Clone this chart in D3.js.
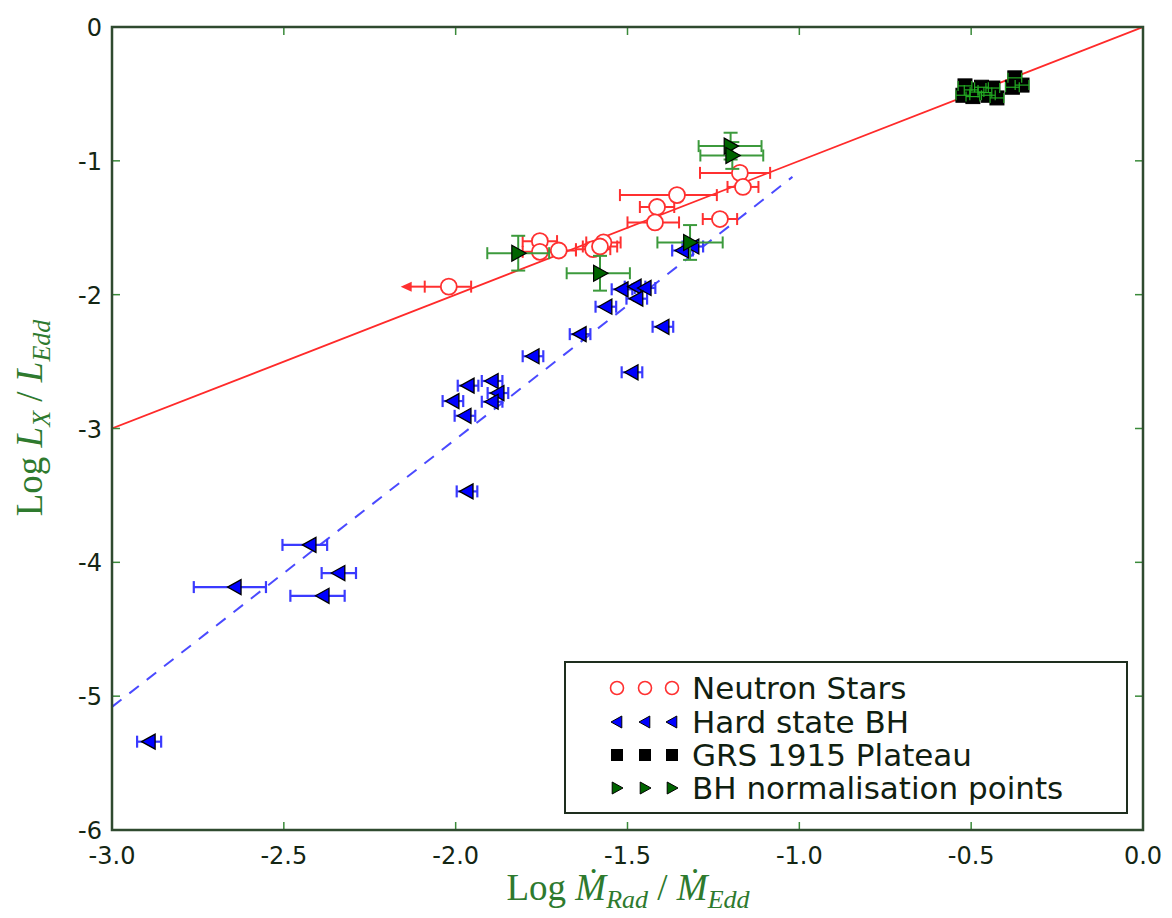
<!DOCTYPE html>
<html><head><meta charset="utf-8">
<script src="https://cdn.jsdelivr.net/npm/d3@7"></script>
<style>body{margin:0;background:#fff}svg{display:block}</style>
</head><body>
<script>
// ---------- DATA ----------
const xTicks = [-3.0, -2.5, -2.0, -1.5, -1.0, -0.5, 0.0];
const xTickLabels = ["-3.0", "-2.5", "-2.0", "-1.5", "-1.0", "-0.5", "0.0"];
const yTicks = [0, -1, -2, -3, -4, -5, -6];
const yTickLabels = ["0", "-1", "-2", "-3", "-4", "-5", "-6"];

// Neutron stars
const nsX    = [-2.02, -1.755, -1.755, -1.70, -1.60, -1.57, -1.58, -1.356, -1.414, -1.42, -1.173, -1.164, -1.231];
const nsY    = [-1.94, -1.60, -1.68, -1.67, -1.66, -1.61, -1.64, -1.256, -1.345, -1.46, -1.09, -1.195, -1.435];
const nsXlo  = [0.07, 0.05, 0.05, 0.05, 0.05, 0.05, 0.05, 0.166, 0.05, 0.08, 0.116, 0.045, 0.05];
const nsXhi  = [0.065, 0.05, 0.05, 0.05, 0.05, 0.05, 0.05, 0.116, 0.05, 0.07, 0.088, 0.045, 0.05];
const nsArrowTo = [-2.16, null, null, null, null, null, null, null, null, null, null, null, null];

// Hard state BH
const bhX   = [-2.892, -2.424, -2.642, -2.34, -2.386, -1.964, -2.008, -1.973, -1.894, -1.877, -1.894, -1.967,
               -1.775, -1.638, -1.563, -1.516, -1.478, -1.449, -1.473, -1.397, -1.487, -1.34, -1.31];
const bhY   = [-5.34, -3.87, -4.185, -4.08, -4.25, -2.68, -2.795, -2.905, -2.645, -2.735, -2.80, -3.47,
               -2.46, -2.295, -2.09, -1.96, -1.94, -1.95, -2.03, -2.24, -2.58, -1.67, -1.64];
const bhXlo = [0.035, 0.08, 0.12, 0.05, 0.095, 0.03, 0.03, 0.03, 0.03, 0.03, 0.03, 0.03,
               0.03, 0.03, 0.03, 0.03, 0.03, 0.03, 0.03, 0.03, 0.03, 0.03, 0.03];
const bhXhi = [0.035, 0.05, 0.09, 0.05, 0.063, 0.03, 0.03, 0.03, 0.03, 0.03, 0.03, 0.03,
               0.03, 0.03, 0.03, 0.03, 0.03, 0.03, 0.03, 0.03, 0.03, 0.03, 0.03];

// GRS 1915 plateau
const grsX = [-0.518, -0.524, -0.483, -0.45, -0.437, -0.425, -0.373, -0.352, -0.38, -0.50, -0.46, -0.495, -0.47];
const grsY = [-0.44, -0.51, -0.486, -0.51, -0.456, -0.53, -0.38, -0.434, -0.45, -0.47, -0.49, -0.52, -0.45];
const grsXerr = [0.02, 0.02, 0.02, 0.02, 0.02, 0.02, 0.02, 0.02, 0.02, 0.02, 0.02, 0.02, 0.02];

// BH normalisation points
const bnX   = [-1.818, -1.58, -1.20, -1.195, -1.318];
const bnY   = [-1.69, -1.84, -0.89, -0.96, -1.61];
const bnXlo = [0.09, 0.097, 0.093, 0.093, 0.095];
const bnXhi = [0.09, 0.087, 0.09, 0.09, 0.095];
const bnYerr= [0.13, 0.13, 0.10, 0.10, 0.13];

// Fit lines
const nsLineX = [-3.0, 0.0];
const nsLineY = [-3.0, 0.0];
const bhLineX = [-3.0, -1.02];
const bhLineY = [-5.08, -1.12];

const legendLabels = ["Neutron Stars", "Hard state BH", "GRS 1915 Plateau", "BH normalisation points"];

// ---------- CHART ----------
const W = 1172, H = 918;
const L = 112, R = 1143, T = 27, B = 830;
const svg = d3.select("body").append("svg").attr("width", W).attr("height", H);
const x = d3.scaleLinear().domain([-3, 0]).range([L, R]);
const y = d3.scaleLinear().domain([-6, 0]).range([B, T]);

svg.append("clipPath").attr("id", "clip").append("rect")
  .attr("x", L).attr("y", T).attr("width", R - L).attr("height", B - T);
const plot = svg.append("g").attr("clip-path", "url(#clip)");

const line = d3.line().x(d => x(d[0])).y(d => y(d[1]));
plot.append("path").datum(d3.zip(nsLineX, nsLineY)).attr("d", line)
  .attr("stroke", "#ff2a2a").attr("stroke-width", 1.8).attr("fill", "none");
plot.append("path").datum(d3.zip(bhLineX, bhLineY)).attr("d", line)
  .attr("stroke", "#4a4aff").attr("stroke-width", 2).attr("fill", "none")
  .attr("stroke-dasharray", "12,10");

function xErr(g, xs, ys, lo, hi, color, cap, w) {
  xs.forEach((xv, i) => {
    const cy = y(ys[i]), x0 = x(xv - lo[i]), x1 = x(xv + hi[i]);
    g.append("line").attr("x1", x0).attr("x2", x1).attr("y1", cy).attr("y2", cy)
      .attr("stroke", color).attr("stroke-width", w);
    [x0, x1].forEach(cx => g.append("line").attr("x1", cx).attr("x2", cx)
      .attr("y1", cy - cap).attr("y2", cy + cap).attr("stroke", color).attr("stroke-width", w));
  });
}
function yErr(g, xs, ys, e, color, cap, w) {
  xs.forEach((xv, i) => {
    const cx = x(xv), y0 = y(ys[i] - e[i]), y1 = y(ys[i] + e[i]);
    g.append("line").attr("x1", cx).attr("x2", cx).attr("y1", y0).attr("y2", y1)
      .attr("stroke", color).attr("stroke-width", w);
    [y0, y1].forEach(cy => g.append("line").attr("y1", cy).attr("y2", cy)
      .attr("x1", cx - cap).attr("x2", cx + cap).attr("stroke", color).attr("stroke-width", w));
  });
}

const triL = s => `M${-s},0L${s*0.8},${-s}L${s*0.8},${s}Z`;
const triR = s => `M${s},0L${-s*0.8},${-s}L${-s*0.8},${s}Z`;

// Neutron stars
const gNS = plot.append("g");
xErr(gNS, nsX, nsY, nsXlo, nsXhi, "#ff3030", 6, 2);
nsArrowTo.forEach((a, i) => {
  if (a == null) return;
  const cy = y(nsY[i]), x0 = x(nsX[i] - nsXlo[i]), xa = x(a);
  gNS.append("line").attr("x1", x0).attr("x2", xa + 6).attr("y1", cy).attr("y2", cy)
    .attr("stroke", "#ff3030").attr("stroke-width", 2);
  gNS.append("path").attr("d", `M${xa},${cy}L${xa+11},${cy-5}L${xa+11},${cy+5}Z`).attr("fill", "#ff3030");
});
gNS.selectAll("circle").data(nsX).join("circle")
  .attr("cx", (d) => x(d)).attr("cy", (d, i) => y(nsY[i])).attr("r", 8)
  .attr("fill", "#fff").attr("stroke", "#ff3030").attr("stroke-width", 1.8);

// Hard state BH
const gBH = plot.append("g");
xErr(gBH, bhX, bhY, bhXlo, bhXhi, "#3a3aff", 6, 2.2);
gBH.selectAll("path.m").data(bhX).join("path").attr("class", "m")
  .attr("d", triL(7.5)).attr("transform", (d, i) => `translate(${x(d)},${y(bhY[i])})`)
  .attr("fill", "#0000ff").attr("stroke", "#000").attr("stroke-width", 1.3);

// GRS 1915
const gGRS = plot.append("g");
gGRS.selectAll("rect").data(grsX).join("rect")
  .attr("x", d => x(d) - 7).attr("y", (d, i) => y(grsY[i]) - 7).attr("width", 14).attr("height", 14)
  .attr("fill", "#000").attr("stroke", "#000").attr("stroke-width", 1);
xErr(gGRS, grsX, grsY, grsXerr, grsXerr, "#22aa22", 5, 1.2);

// BH normalisation
const gBN = plot.append("g");
xErr(gBN, bnX, bnY, bnXlo, bnXhi, "#3c9a3c", 6, 2);
yErr(gBN, bnX, bnY, bnYerr, "#3c9a3c", 7, 2);
gBN.selectAll("path.m").data(bnX).join("path").attr("class", "m")
  .attr("d", triR(8)).attr("transform", (d, i) => `translate(${x(d)},${y(bnY[i])})`)
  .attr("fill", "#006400").attr("stroke", "#000").attr("stroke-width", 1.2);

// Frame and ticks
const tickCol = "#3a8a3a";
const tickG = svg.append("g");
xTicks.forEach(t => {
  tickG.append("line").attr("x1", x(t)).attr("x2", x(t)).attr("y1", B).attr("y2", B - 8).attr("stroke", tickCol).attr("stroke-width", 1.5);
  tickG.append("line").attr("x1", x(t)).attr("x2", x(t)).attr("y1", T).attr("y2", T + 8).attr("stroke", tickCol).attr("stroke-width", 1.5);
});
yTicks.forEach(t => {
  tickG.append("line").attr("y1", y(t)).attr("y2", y(t)).attr("x1", L).attr("x2", L + 8).attr("stroke", tickCol).attr("stroke-width", 1.5);
  tickG.append("line").attr("y1", y(t)).attr("y2", y(t)).attr("x1", R).attr("x2", R - 8).attr("stroke", tickCol).attr("stroke-width", 1.5);
});
svg.append("rect").attr("x", L).attr("y", T).attr("width", R - L).attr("height", B - T)
  .attr("fill", "none").attr("stroke", "#2f4a2f").attr("stroke-width", 2.5);

// Tick labels
const tickTextCol = "#142614";
svg.append("g").selectAll("text").data(xTicks).join("text")
  .attr("x", d => x(d)).attr("y", B + 34).attr("text-anchor", "middle")
  .attr("font-family", "DejaVu Sans").attr("font-size", 24).attr("fill", tickTextCol)
  .text((d, i) => xTickLabels[i]);
svg.append("g").selectAll("text").data(yTicks).join("text")
  .attr("x", L - 10).attr("y", d => y(d) + 9).attr("text-anchor", "end")
  .attr("font-family", "DejaVu Sans").attr("font-size", 24).attr("fill", tickTextCol)
  .text((d, i) => yTickLabels[i]);

// Axis labels
const labCol = "#2e7a2e";
const xl = svg.append("text").attr("x", 628).attr("y", 900).attr("text-anchor", "middle")
  .attr("font-family", "Liberation Serif").attr("font-size", 37).attr("fill", labCol);
xl.append("tspan").text("Log ");
xl.append("tspan").attr("font-style", "italic").text("Ṁ");
xl.append("tspan").attr("font-style", "italic").attr("font-size", 26).attr("dy", 8).text("Rad");
xl.append("tspan").attr("dy", -8).text(" / ");
xl.append("tspan").attr("font-style", "italic").text("Ṁ");
xl.append("tspan").attr("font-style", "italic").attr("font-size", 26).attr("dy", 8).text("Edd");

const yl = svg.append("text").attr("transform", "translate(42,418) rotate(-90)").attr("text-anchor", "middle")
  .attr("font-family", "Liberation Serif").attr("font-size", 37).attr("fill", labCol);
yl.append("tspan").text("Log ");
yl.append("tspan").attr("font-style", "italic").text("L");
yl.append("tspan").attr("font-style", "italic").attr("font-size", 26).attr("dy", 8).text("X");
yl.append("tspan").attr("dy", -8).text(" / ");
yl.append("tspan").attr("font-style", "italic").text("L");
yl.append("tspan").attr("font-style", "italic").attr("font-size", 26).attr("dy", 8).text("Edd");

// Legend
const lg = svg.append("g");
lg.append("rect").attr("x", 565).attr("y", 662).attr("width", 562).attr("height", 151)
  .attr("fill", "#fff").attr("stroke", "#1e2e1e").attr("stroke-width", 2);
const rowY = [688, 722, 755, 788];
const mx = [617, 645, 672];
legendLabels.forEach((lab, i) => {
  const cy = rowY[i];
  mx.forEach(cx => {
    if (i === 0) lg.append("circle").attr("cx", cx).attr("cy", cy).attr("r", 6.5).attr("fill", "#fff").attr("stroke", "#ff3030").attr("stroke-width", 1.6);
    if (i === 1) lg.append("path").attr("d", triL(6)).attr("transform", `translate(${cx},${cy})`).attr("fill", "#0000ff").attr("stroke", "#000").attr("stroke-width", 1);
    if (i === 2) lg.append("rect").attr("x", cx - 6).attr("y", cy - 6).attr("width", 12).attr("height", 12).attr("fill", "#000");
    if (i === 3) lg.append("path").attr("d", triR(6)).attr("transform", `translate(${cx},${cy})`).attr("fill", "#006400").attr("stroke", "#000").attr("stroke-width", 1);
  });
  lg.append("text").attr("x", 692).attr("y", cy + 11).attr("font-family", "DejaVu Sans").attr("font-size", 31)
    .attr("fill", "#102010").text(lab);
});
</script>
</body></html>
